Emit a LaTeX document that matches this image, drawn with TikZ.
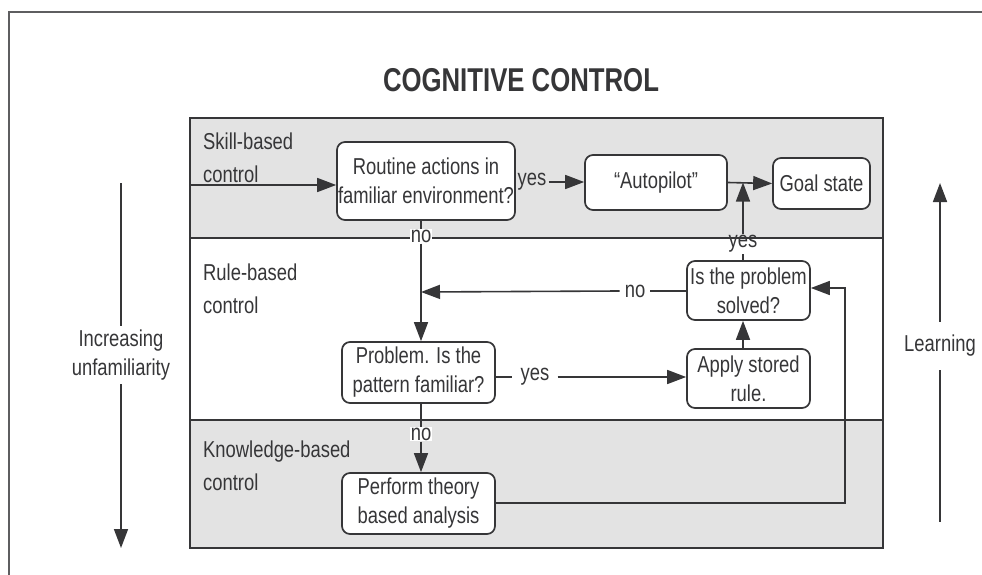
\documentclass[tikz,border=0pt]{standalone}
\usepackage{fontspec}
\setmainfont[FakeStretch=0.8]{Liberation Sans}
\newfontfamily\titlefont[FakeStretch=0.78]{Liberation Sans}
\usetikzlibrary{arrows.meta}
\definecolor{ink}{HTML}{363638}
\definecolor{band}{HTML}{E3E3E3}
\begin{document}
\begin{tikzpicture}[x=1pt,y=-1pt,
  font=\fontsize{23}{29}\selectfont, text=ink,
  box/.style={draw=ink, line width=1.7pt, rounded corners=8pt, fill=white, align=center, inner sep=0pt},
  conn/.style={draw=ink, line width=1.6pt},
  arr/.style={conn, -{Triangle[length=19pt,width=14pt]}},
  lbl/.style={inner sep=2pt},
  bandlbl/.style={anchor=west, align=left, inner sep=0pt, font=\fontsize{23}{33}\selectfont}
]
\useasboundingbox (0,0) rectangle (982,575);
\fill[white] (0,0) rectangle (982,575);
% outer frame
\draw[draw=ink!80, line width=1.6pt] (982,12) -- (9,12) -- (9,575);
% title
\node (title) at (521,80) {\titlefont\bfseries\fontsize{33}{36}\selectfont COGNITIVE CONTROL};
% bands
\fill[band] (190,118) rectangle (883,238);
\fill[band] (190,420) rectangle (883,548);
\draw[ink, line width=1.6pt] (190,118) rectangle (883,548);
\draw[ink, line width=1.6pt] (190,238) -- (883,238);
\draw[ink, line width=1.6pt] (190,420) -- (883,420);
% band labels
\node[bandlbl] (skill) at (203,158) {Skill-based\\control};
\node[bandlbl] (rule) at (203,289) {Rule-based\\control};
\node[bandlbl] (know) at (203,466) {Knowledge-based\\control};
% boxes
\node[box, minimum width=178pt, minimum height=78pt] (routine) at (426,181) {Routine actions in\\familiar environment?};
\node[box, minimum width=142pt, minimum height=55pt] (auto) at (656,182.5) {``Autopilot''};
\node[box, minimum width=97pt, minimum height=51pt] (goal) at (821.5,183.5) {Goal state};
\node[box, minimum width=123pt, minimum height=59pt] (solved) at (748.5,290.5) {Is the problem\\solved?};
\node[box, minimum width=123pt, minimum height=59pt] (apply) at (748.5,378.5) {Apply stored\\rule.};
\node[box, minimum width=153pt, minimum height=61pt] (problem) at (418.5,372.5) {Problem. Is the\\pattern familiar?};
\node[box, minimum width=153pt, minimum height=61pt] (perform) at (418.5,503.5) {Perform theory\\based analysis};
% labels on connectors
\node[lbl] (yes1) at (532,182) {yes};
\node[lbl, inner sep=1pt] (yes2) at (743,244) {yes};
\node[lbl, inner sep=5pt] (no2) at (635,291) {no};
\node[lbl, inner sep=8pt] (yes3) at (535,377) {yes};
\node[lbl, fill=white, inner sep=1pt] (no1) at (421,236) {no};
\node[lbl, fill=white, inner sep=1pt] (no3) at (421,434) {no};
% coordinates
\coordinate (in) at (190,185);
\coordinate (j) at (421,292);
\coordinate (c1) at (845,503);
\coordinate (c2) at (845,288);
% connectors
\draw[arr] (in) -- (in -| routine.west);
\draw[conn] (routine.east |- yes1) -- (yes1.west);
\draw[arr] (yes1.east) -- (auto.west |- yes1);
\draw[arr] (auto.east) -- (goal.west);
\draw[conn] (solved.north -| yes2) -- (yes2.south);
\draw[arr] (yes2.north) -- (yes2 |- auto.east);
\draw[arr] (apply.north -| yes2) -- (solved.south -| yes2);
\draw[conn] (solved.west |- no2) -- (no2.east);
\draw[arr] (no2.west) -- (j);
\draw[conn] (routine.south -| no1) -- (no1.north);
\draw[arr] (no1.south) -- (problem.north -| no1);
\draw[conn] (problem.east |- yes3) -- (yes3.west);
\draw[arr] (yes3.east) -- (apply.west |- yes3);
\draw[conn] (problem.south -| no3) -- (no3.north);
\draw[arr] (no3.south) -- (perform.north -| no3);
\draw[arr] (perform.east |- c1) -- (c1) -- (c2) -- (solved.east |- c2);
% side arrows
\node[align=center, inner sep=4pt] (incr) at (121,355) {Increasing\\unfamiliarity};
\coordinate (itop) at (121,183);
\coordinate (ibot) at (121,548);
\draw[conn] (itop) -- (incr.north);
\draw[arr] (incr.south) -- (ibot);
\node[inner sep=4pt, minimum height=48pt] (learn) at (940,346) {Learning};
\coordinate (ltop) at (940,183);
\coordinate (lbot) at (940,522);
\draw[arr] (learn.north) -- (ltop);
\draw[conn] (learn.south) -- (lbot);
\end{tikzpicture}
\end{document}
